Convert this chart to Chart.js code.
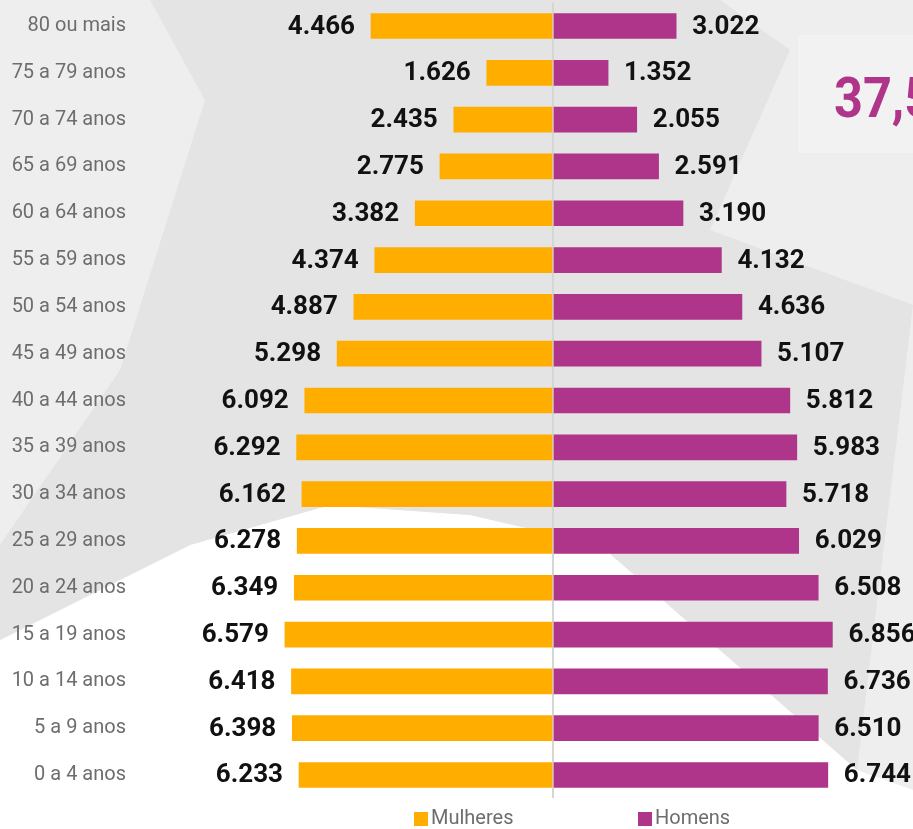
<!DOCTYPE html>
<html>
<head>
<meta charset="utf-8">
<script src="https://cdn.jsdelivr.net/npm/chart.js@4.4.0/dist/chart.umd.min.js"></script>
<style>
  html, body { margin: 0; padding: 0; background: #fff; overflow: hidden; }
  #wrap { position: relative; width: 913px; height: 829px; }
</style>
</head>
<body>
<div id="wrap"><canvas id="pyramid"></canvas></div>
<script>
  var faixas = ['80 ou mais', '75 a 79 anos', '70 a 74 anos', '65 a 69 anos', '60 a 64 anos',
    '55 a 59 anos', '50 a 54 anos', '45 a 49 anos', '40 a 44 anos', '35 a 39 anos',
    '30 a 34 anos', '25 a 29 anos', '20 a 24 anos', '15 a 19 anos', '10 a 14 anos',
    '5 a 9 anos', '0 a 4 anos'];
  var mulheres = [4466, 1626, 2435, 2775, 3382, 4374, 4887, 5298, 6092, 6292, 6162, 6278, 6349, 6579, 6418, 6398, 6233];
  var homens = [3022, 1352, 2055, 2591, 3190, 4132, 4636, 5107, 5812, 5983, 5718, 6029, 6508, 6856, 6736, 6510, 6744];
  var destaque = '37,5';

  var corMulheres = '#ffae00';
  var corHomens = '#ae3589';

  function fmt(n) {
    return String(Math.abs(n)).replace(/\B(?=(\d{3})+(?!\d))/g, '.');
  }

  function poly(ctx, pts, color) {
    ctx.beginPath();
    ctx.moveTo(pts[0][0], pts[0][1]);
    for (var i = 1; i < pts.length; i++) ctx.lineTo(pts[i][0], pts[i][1]);
    ctx.closePath();
    ctx.fillStyle = color;
    ctx.fill();
  }

  // decorative background (big grey "X")
  var fundo = {
    id: 'fundo',
    beforeDraw: function (chart) {
      var ctx = chart.ctx;
      ctx.save();
      ctx.fillStyle = '#ffffff';
      ctx.fillRect(0, 0, chart.width, chart.height);
      poly(ctx, [[0, 0], [913, 0], [913, 790], [857, 770], [600, 545], [470, 515],
        [330, 505], [190, 545], [0, 640]], '#eeeeee');
      poly(ctx, [[150, 0], [720, 0], [790, 50], [710, 230], [913, 305], [857, 770],
        [600, 545], [470, 515], [330, 505], [190, 545], [0, 640], [0, 545],
        [120, 370], [205, 100]], '#e4e4e4');
      // highlight panel
      ctx.fillStyle = '#f2f2f2';
      ctx.fillRect(798, 35, 120, 118);
      ctx.fillStyle = corHomens;
      ctx.font = 'bold 56px Roboto';
      ctx.textBaseline = 'alphabetic';
      ctx.textAlign = 'left';
      ctx.translate(834, 117);
      ctx.scale(0.9, 1);
      ctx.fillText(destaque, 0, 0);
      ctx.restore();
    }
  };

  var rotulos = {
    id: 'rotulos',
    afterDatasetsDraw: function (chart) {
      var ctx = chart.ctx;
      ctx.save();
      ctx.font = 'bold 26px Roboto';
      ctx.fillStyle = '#111111';
      ctx.textBaseline = 'middle';
      chart.data.datasets.forEach(function (ds, di) {
        var meta = chart.getDatasetMeta(di);
        meta.data.forEach(function (bar, i) {
          var v = ds.data[i];
          if (v < 0) {
            ctx.textAlign = 'right';
            ctx.fillText(fmt(v), bar.x - 16, bar.y + 1);
          } else {
            ctx.textAlign = 'left';
            ctx.fillText(fmt(v), bar.x + 16, bar.y + 1);
          }
        });
      });
      ctx.restore();
    }
  };

  var legenda = {
    id: 'legenda',
    afterDraw: function (chart) {
      var ctx = chart.ctx;
      var xs = [414, 638];
      ctx.save();
      ctx.font = '20px Roboto';
      ctx.textBaseline = 'middle';
      ctx.textAlign = 'left';
      chart.data.datasets.forEach(function (ds, di) {
        ctx.fillStyle = ds.backgroundColor;
        ctx.fillRect(xs[di], 812, 14, 14);
        ctx.fillStyle = '#6d6d6d';
        ctx.fillText(ds.label, xs[di] + 17, 819);
      });
      ctx.restore();
    }
  };

  var ctx = document.getElementById('pyramid').getContext('2d');
  var myChart = new Chart(ctx, {
    type: 'bar',
    data: {
      labels: faixas,
      datasets: [{
        label: 'Mulheres',
        data: mulheres.map(function (v) { return -v; }),
        backgroundColor: corMulheres,
        barThickness: 25
      }, {
        label: 'Homens',
        data: homens,
        backgroundColor: corHomens,
        barThickness: 25
      }]
    },
    options: {
      indexAxis: 'y',
      responsive: true,
      maintainAspectRatio: false,
      animation: false,
      layout: { padding: { top: 2.6, bottom: 30.6, right: 0, left: 0 } },
      plugins: {
        legend: { display: false },
        tooltip: { enabled: false }
      },
      scales: {
        x: {
          stacked: true,
          min: -10233,
          max: 8834,
          ticks: { display: false },
          border: { display: false },
          grid: {
            drawTicks: false,
            lineWidth: 2,
            color: function (c) { return c.tick && c.tick.value === 0 ? '#d6d6d6' : 'rgba(0,0,0,0)'; }
          }
        },
        y: {
          stacked: true,
          afterFit: function (scale) {
            scale.width = 136;
            scale.paddingTop = 0;
            scale.paddingBottom = 0;
          },
          border: { display: false },
          grid: { display: false, drawTicks: false },
          ticks: {
            padding: 10,
            color: '#6d6d6d',
            font: { family: 'Roboto', size: 20 }
          }
        }
      }
    },
    plugins: [fundo, rotulos, legenda]
  });
</script>
</body>
</html>
